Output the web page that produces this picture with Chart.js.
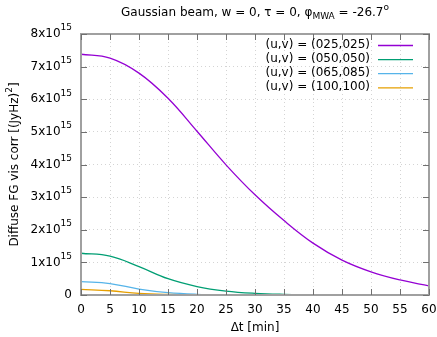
<!DOCTYPE html>
<html>
<head>
<meta charset="utf-8">
<script src="https://cdn.jsdelivr.net/npm/chart.js@4/dist/chart.umd.min.js"></script>
<style>
  html, body { margin: 0; padding: 0; background: #fff; }
  #wrap { width: 437px; height: 337px; }
</style>
</head>
<body>
<div id="wrap"><canvas id="chart" width="437" height="337"></canvas></div>
<script>
// time lag in minutes
const deltaT = [0, 5, 10, 15, 20, 25, 30, 35, 40, 45, 50, 55, 60];

// visibility correlation, in units of 1e15 (JyHz)^2
const uv025 = [7.38, 7.26, 6.80, 6.03, 5.02, 3.99, 3.07, 2.28, 1.59, 1.07, 0.71, 0.46, 0.28];
const uv050 = [1.28, 1.19, 0.87, 0.50, 0.26, 0.12, 0.05, 0.02, 0.01, 0.0, 0.0, 0.0, 0.0];
const uv065 = [0.41, 0.35, 0.18, 0.07, 0.02, 0.005, 0.0, 0.0, 0.0, 0.0, 0.0, 0.0, 0.0];
const uv100 = [0.175, 0.13, 0.05, 0.015, 0.003, 0.0, 0.0, 0.0, 0.0, 0.0, 0.0, 0.0, 0.0];

const seriesLabels = ["(u,v) = (025,025)", "(u,v) = (050,050)", "(u,v) = (065,085)", "(u,v) = (100,100)"];
const seriesColors = ["#9400d3", "#009e73", "#56b4e9", "#e69f00"];

const xTicks = [0, 5, 10, 15, 20, 25, 30, 35, 40, 45, 50, 55, 60];
const yTicks = [0, 1, 2, 3, 4, 5, 6, 7, 8];

const FONT = "DejaVu Sans";

const toPoints = (ys) => ys.map((y, i) => ({ x: deltaT[i], y: y }));

// gnuplot-like frame, ticks, labels, legend and title
const gnuplotLook = {
  id: "gnuplotLook",
  afterDraw(chart) {
    const ctx = chart.ctx;
    const area = chart.chartArea;
    const xs = chart.scales.x;
    const ys = chart.scales.y;
    ctx.save();

    // frame
    ctx.strokeStyle = "#a0a0a0";
    ctx.lineWidth = 2;
    ctx.strokeRect(area.left, area.top, area.right - area.left, area.bottom - area.top);

    // inward ticks on all sides
    ctx.strokeStyle = "#707070";
    ctx.lineWidth = 1;
    ctx.beginPath();
    xTicks.forEach((t) => {
      const px = Math.round(xs.getPixelForValue(t)) + 0.5;
      ctx.moveTo(px, area.bottom);
      ctx.lineTo(px, area.bottom - 6);
      ctx.moveTo(px, area.top);
      ctx.lineTo(px, area.top + 6);
    });
    yTicks.forEach((t) => {
      const py = Math.round(ys.getPixelForValue(t)) + 0.5;
      ctx.moveTo(area.left, py);
      ctx.lineTo(area.left + 6, py);
      ctx.moveTo(area.right, py);
      ctx.lineTo(area.right - 6, py);
    });
    ctx.stroke();

    ctx.fillStyle = "#000";
    ctx.textBaseline = "middle";

    // x tick labels
    ctx.font = "12px '" + FONT + "'";
    ctx.textAlign = "center";
    xTicks.forEach((t) => {
      ctx.fillText(String(t), xs.getPixelForValue(t), area.bottom + 15);
    });

    // y tick labels with superscript exponent
    yTicks.forEach((t) => {
      const py = ys.getPixelForValue(t);
      const right = area.left - 9;
      if (t === 0) {
        ctx.font = "12px '" + FONT + "'";
        ctx.textAlign = "right";
        ctx.fillText("0", right, py);
        return;
      }
      ctx.font = "9px '" + FONT + "'";
      const expW = ctx.measureText("15").width;
      ctx.textAlign = "right";
      ctx.fillText("15", right, py - 6);
      ctx.font = "12px '" + FONT + "'";
      ctx.fillText(t + "x10", right - expW, py);
    });

    // axis titles
    ctx.font = "12px '" + FONT + "'";
    ctx.textAlign = "center";
    ctx.fillText("\u0394t [min]", (area.left + area.right) / 2, 328);

    ctx.save();
    ctx.translate(15, (area.top + area.bottom) / 2);
    ctx.rotate(-Math.PI / 2);
    const yt1 = "Diffuse FG vis corr [(JyHz)";
    ctx.font = "9px '" + FONT + "'";
    const supW = ctx.measureText("2").width;
    ctx.font = "12px '" + FONT + "'";
    const w1 = ctx.measureText(yt1).width;
    const w2 = ctx.measureText("]").width;
    const total = w1 + supW + w2;
    ctx.textAlign = "left";
    const x0 = -total / 2;
    ctx.fillText(yt1, x0, 0);
    ctx.font = "9px '" + FONT + "'";
    ctx.fillText("2", x0 + w1, -5);
    ctx.font = "12px '" + FONT + "'";
    ctx.fillText("]", x0 + w1 + supW, 0);
    ctx.restore();

    // title: Gaussian beam, w = 0, τ = 0, φ_MWA = -26.7°
    const parts = [
      { t: "Gaussian beam, w = 0, \u03c4 = 0, \u03c6", size: 12, dy: 0 },
      { t: "MWA", size: 9, dy: 4 },
      { t: " = -26.7", size: 12, dy: 0 },
      { t: "o", size: 9, dy: -5 },
    ];
    let tw = 0;
    parts.forEach((p) => {
      ctx.font = p.size + "px '" + FONT + "'";
      p.w = ctx.measureText(p.t).width;
      tw += p.w;
    });
    let tx = (area.left + area.right) / 2 - tw / 2;
    ctx.textAlign = "left";
    parts.forEach((p) => {
      ctx.font = p.size + "px '" + FONT + "'";
      ctx.fillText(p.t, tx, 13 + p.dy);
      tx += p.w;
    });

    // legend, top right inside the frame
    ctx.font = "12px '" + FONT + "'";
    seriesLabels.forEach((lab, i) => {
      const ly = 45 + i * 14.1;
      ctx.fillStyle = "#000";
      ctx.textAlign = "right";
      ctx.fillText(lab, 370, ly);
      ctx.strokeStyle = seriesColors[i];
      ctx.lineWidth = 1.3;
      ctx.beginPath();
      ctx.moveTo(378, ly + 0.5);
      ctx.lineTo(413, ly + 0.5);
      ctx.stroke();
    });

    ctx.restore();
  },
};

const allSeries = [uv025, uv050, uv065, uv100];

new Chart(document.getElementById("chart").getContext("2d"), {
  type: "line",
  data: {
    datasets: allSeries.map((ys, i) => ({
      label: seriesLabels[i],
      data: toPoints(ys),
      borderColor: seriesColors[i],
      backgroundColor: seriesColors[i],
      borderWidth: 1.3,
      pointRadius: 0,
      tension: 0.4, // smooth curves between the 5-minute samples
      fill: false,
    })).reverse(),
  },
  options: {
    responsive: false,
    animation: false,
    layout: { padding: { left: 81, right: 8, top: 34, bottom: 42 } },
    scales: {
      x: {
        type: "linear",
        min: 0,
        max: 60,
        ticks: { display: false, stepSize: 5 },
        grid: { color: "#d4d4d4", lineWidth: 1, drawTicks: false },
        border: { display: false, dash: [1, 3] },
      },
      y: {
        min: 0,
        max: 8,
        ticks: { display: false, stepSize: 1 },
        grid: { color: "#d4d4d4", lineWidth: 1, drawTicks: false },
        border: { display: false, dash: [1, 3] },
      },
    },
    plugins: {
      legend: { display: false },
      tooltip: { enabled: false },
      title: { display: false },
    },
  },
  plugins: [gnuplotLook],
});
</script>
</body>
</html>
